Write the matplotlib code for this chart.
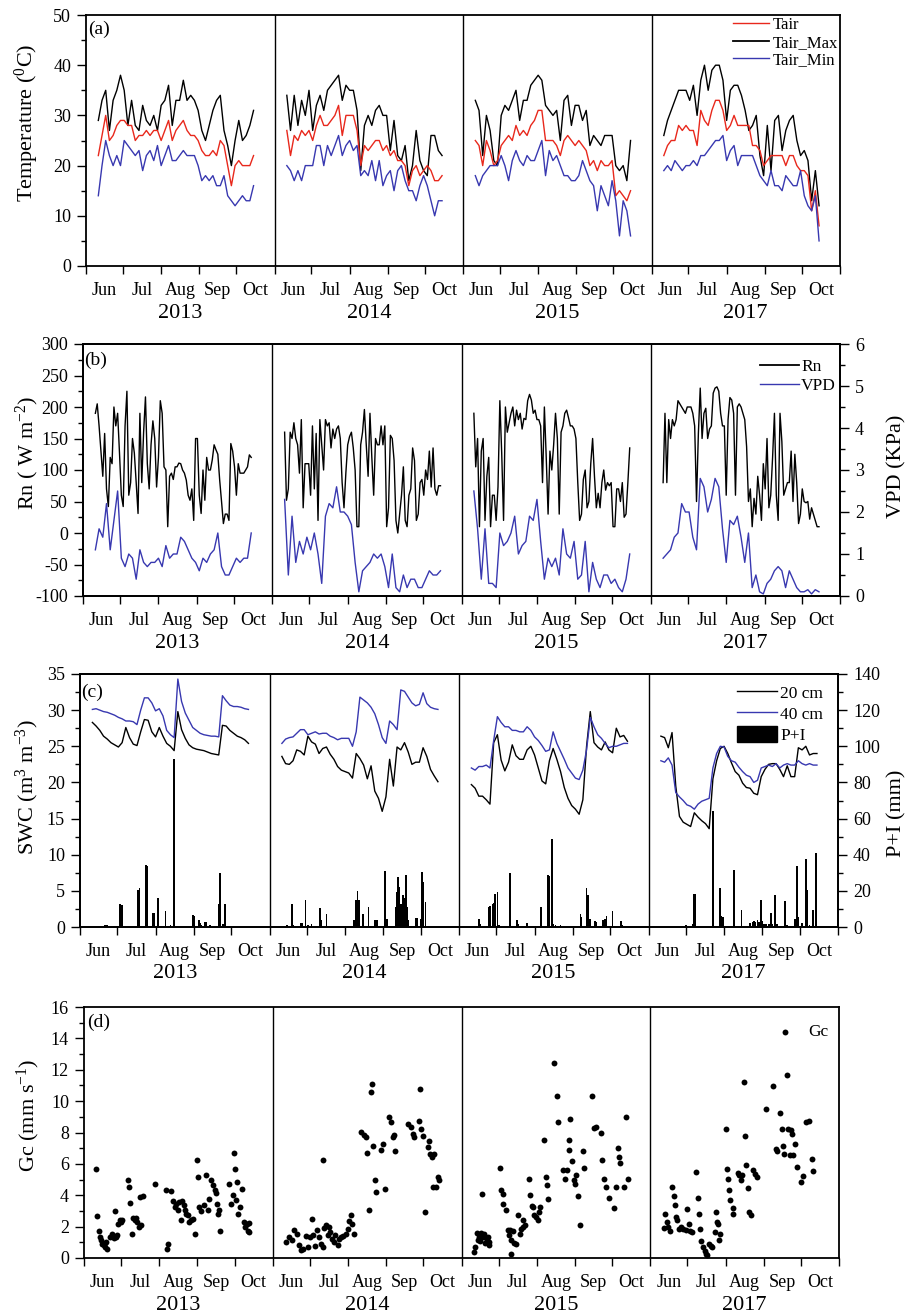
import numpy as np
import matplotlib
matplotlib.use('Agg')
import matplotlib.pyplot as plt
import matplotlib.transforms as mtransforms
from matplotlib.ticker import MultipleLocator
from matplotlib.lines import Line2D
from matplotlib.patches import Patch

plt.rcParams['font.family'] = ['Liberation Serif', 'DejaVu Serif']
plt.rcParams['mathtext.fontset'] = 'custom'
plt.rcParams['mathtext.rm'] = 'Liberation Serif'
plt.rcParams['mathtext.it'] = 'Liberation Serif:italic'
plt.rcParams['mathtext.bf'] = 'Liberation Serif:bold'
plt.rcParams['axes.unicode_minus'] = False
plt.rcParams['axes.linewidth'] = 1.3
plt.rcParams['xtick.major.size'] = 5.5
plt.rcParams['xtick.major.width'] = 1.0
plt.rcParams['ytick.major.size'] = 6.3
plt.rcParams['ytick.minor.size'] = 3.3
plt.rcParams['ytick.major.width'] = 1.0
plt.rcParams['ytick.minor.width'] = 1.0
plt.rcParams['xtick.labelsize'] = 13
plt.rcParams['ytick.labelsize'] = 13

RED = '#e8281c'
BLUE = '#3838b0'

years = ['2013', '2014', '2015', '2017']
months = ['Jun', 'Jul', 'Aug', 'Sep', 'Oct']
month_start = [0, 30, 61, 92, 122, 153]   # days after 1 June
seg = 153                                  # days shown per year (Jun-Oct)
line_days = np.arange(10, 137, 3)          # sampling of the line series
rn_days = np.arange(10, 136.1, 1.5)        # finer sampling for Rn

# ---- (a) air temperature, degC ----
tair_2013 = [22, 26, 30, 25, 26, 28, 29, 29, 28, 28, 25, 26, 26, 27, 26, 27, 27, 25, 27, 29,
             25, 27, 28, 29, 27, 26, 26, 25, 23, 22, 22, 23, 22, 25, 24, 20, 16, 20, 21, 20,
             20, 20, 22]
tmax_2013 = [29, 33, 35, 27, 33, 35, 38, 35, 28, 33, 28, 27, 32, 29, 28, 30, 27, 32, 33, 36,
             28, 33, 33, 37, 33, 34, 33, 31, 27, 25, 28, 31, 33, 34, 27, 24, 20, 25, 29, 25,
             26, 28, 31]
tmin_2013 = [14, 20, 25, 22, 20, 22, 20, 25, 24, 23, 22, 23, 19, 22, 23, 21, 24, 20, 22, 24,
             21, 21, 22, 23, 22, 22, 22, 20, 17, 18, 17, 18, 16, 16, 18, 14, 13, 12, 13, 14,
             13, 13, 16]
tair_2014 = [27, 22, 26, 25, 27, 26, 27, 25, 28, 30, 28, 28, 29, 30, 32, 26, 30, 30, 30, 27,
             20, 24, 23, 24, 25, 25, 23, 24, 22, 23, 21, 21, 20, 16, 19, 20, 18, 19, 20, 19,
             17, 17, 18]
tmax_2014 = [34, 27, 34, 28, 33, 30, 35, 27, 32, 34, 31, 35, 36, 37, 38, 33, 36, 35, 35, 31,
             19, 28, 30, 28, 31, 32, 30, 30, 23, 29, 22, 21, 24, 17, 20, 27, 21, 19, 18, 26,
             26, 23, 22]
tmin_2014 = [20, 19, 17, 19, 17, 20, 20, 20, 24, 24, 20, 24, 22, 24, 26, 22, 24, 25, 23, 24,
             18, 19, 18, 21, 17, 21, 16, 18, 19, 15, 19, 20, 17, 15, 15, 13, 16, 18, 16, 13,
             10, 13, 13]
tair_2015 = [25, 24, 20, 25, 23, 20, 21, 24, 25, 26, 25, 28, 26, 27, 26, 28, 29, 31, 31, 25,
             25, 25, 24, 22, 25, 26, 25, 24, 25, 24, 23, 20, 21, 19, 21, 20, 20, 21, 14, 15,
             14, 13, 15]
tmax_2015 = [33, 31, 22, 30, 27, 21, 20, 30, 32, 31, 33, 35, 29, 33, 33, 36, 37, 38, 37, 32,
             31, 30, 31, 25, 33, 34, 28, 32, 32, 29, 31, 24, 26, 25, 24, 26, 26, 26, 20, 19,
             20, 17, 25]
tmin_2015 = [18, 16, 18, 19, 20, 20, 20, 22, 20, 17, 21, 23, 21, 20, 22, 21, 21, 23, 25, 18,
             23, 21, 22, 20, 18, 18, 17, 17, 18, 21, 19, 17, 16, 11, 16, 14, 12, 17, 13, 6,
             13, 11, 6]
tair_2017 = [22, 24, 25, 25, 28, 27, 28, 27, 27, 24, 31, 29, 28, 31, 33, 33, 31, 27, 28, 30,
             28, 28, 28, 28, 24, 24, 23, 20, 21, 22, 22, 22, 22, 20, 22, 22, 20, 19, 19, 18,
             11, 15, 8]
tmax_2017 = [26, 29, 31, 33, 35, 35, 35, 33, 36, 30, 37, 40, 35, 39, 40, 40, 37, 29, 35, 36,
             36, 34, 31, 27, 28, 30, 22, 18, 28, 19, 29, 30, 23, 27, 29, 30, 25, 22, 23, 21,
             13, 19, 12]
tmin_2017 = [19, 20, 19, 21, 20, 19, 20, 20, 21, 20, 22, 22, 23, 24, 25, 25, 26, 21, 23, 24,
             20, 22, 22, 22, 22, 20, 18, 17, 16, 19, 16, 16, 15, 18, 17, 16, 16, 19, 14, 12,
             11, 14, 5]

# ---- (b) net radiation (W m-2, every 1.5 d) and VPD (kPa) ----
rn_2013 = [190, 205, 170, 130, 90, 158, 70, 42, 120, 110, 200, 170, 190, 127, 60, 42, 170, 225,
           60, 80, 150, 127, 80, 31, 190, 80, 160, 216, 110, 70, 140, 178, 150, 73, 120, 210,
           190, 105, 100, 10, 90, 95, 85, 105, 105, 111, 110, 100, 95, 84, 60, 52, 70, 20,
           150, 150, 60, 31, 100, 52, 120, 100, 100, 116, 140, 132, 125, 84, 50, 15, 30, 30,
           20, 142, 130, 105, 60, 110, 95, 95, 95, 100, 105, 124, 120]
rn_2014 = [160, 52, 70, 160, 150, 175, 150, 140, 95, 180, 40, 110, 110, 110, 60, 170, 70, 158,
           20, 180, 140, 100, 180, 170, 175, 135, 165, 150, 165, 170, 150, 80, 40, 95, 140,
           153, 160, 135, 100, 10, 10, 140, 160, 196, 140, 90, 190, 120, 60, 150, 140, 140,
           170, 140, 170, 10, 40, 155, 150, 115, 20, 0, 30, 60, 105, 20, 10, 60, 70, 135, 115,
           20, 30, 80, 85, 60, 100, 85, 130, 73, 135, 70, 60, 75, 75]
rn_2015 = [190, 105, 150, 10, 130, 150, 20, 90, 120, 10, 60, 60, 20, 73, 210, 127, 20, 200,
           160, 175, 190, 200, 170, 195, 180, 190, 165, 182, 180, 210, 220, 211, 190, 195, 180,
           180, 170, 80, 200, 120, 30, 130, 100, 140, 190, 150, 30, 160, 170, 190, 195, 183,
           170, 170, 165, 150, 80, 20, 30, 85, 100, 40, 50, 110, 150, 90, 40, 63, 40, 80, 100,
           68, 80, 75, 80, 10, 10, 70, 70, 50, 80, 25, 30, 80, 135]
rn_2017 = [80, 190, 80, 180, 150, 180, 170, 180, 210, 205, 200, 195, 190, 200, 200, 200, 190,
           170, 50, 158, 230, 150, 190, 198, 150, 165, 170, 222, 230, 232, 225, 190, 170, 170,
           60, 180, 215, 211, 190, 60, 200, 205, 200, 190, 180, 137, 50, 70, 10, 55, 30, 90,
           60, 20, 110, 70, 150, 40, 60, 120, 190, 60, 20, 190, 145, 60, 70, 80, 80, 130, 50,
           125, 80, 15, 30, 70, 50, 48, 50, 22, 40, 30, 20, 10, 10]
vpd_2013 = [1.1, 1.6, 1.4, 2.2, 1.1, 1.8, 2.5, 0.9, 0.7, 1.0, 0.9, 0.4, 1.1, 0.8, 0.7, 0.8,
            0.8, 0.9, 0.7, 1.2, 0.9, 1.0, 1.0, 1.4, 1.3, 1.1, 0.9, 0.8, 0.6, 0.9, 0.8, 1.0,
            1.1, 1.5, 0.7, 0.5, 0.5, 0.7, 0.9, 0.8, 0.9, 0.9, 1.5]
vpd_2014 = [2.3, 0.5, 1.9, 0.8, 1.3, 1.0, 1.4, 1.1, 1.5, 1.0, 0.3, 1.9, 2.2, 2.1, 2.6, 2.0,
            2.0, 1.9, 1.7, 0.8, 0.1, 0.6, 0.7, 0.8, 1.0, 0.9, 1.0, 0.7, 0.2, 1.0, 0.2, 0.1,
            0.5, 0.2, 0.4, 0.4, 0.2, 0.2, 0.4, 0.6, 0.5, 0.5, 0.6]
vpd_2015 = [2.5, 1.6, 0.4, 1.6, 0.3, 0.3, 0.2, 1.5, 1.2, 1.3, 1.5, 1.9, 1.0, 1.2, 1.3, 1.9,
            1.8, 2.3, 1.3, 0.4, 0.9, 0.7, 0.9, 0.5, 1.6, 1.0, 0.9, 1.3, 0.4, 0.5, 1.3, 0.1,
            0.8, 0.4, 0.2, 0.5, 0.5, 0.3, 0.4, 0.2, 0.1, 0.4, 1.0]
vpd_2017 = [0.9, 1.0, 1.1, 1.4, 1.5, 2.2, 2.0, 2.0, 1.4, 1.1, 2.8, 2.6, 2.0, 2.3, 2.8, 2.6,
            1.6, 0.8, 1.8, 1.7, 1.9, 1.4, 0.8, 1.5, 0.2, 0.5, 0.1, 0.05, 0.3, 0.4, 0.6, 0.7,
            0.6, 0.2, 0.6, 0.4, 0.2, 0.1, 0.1, 0.15, 0.05, 0.15, 0.1]

# ---- (c) soil water content (m3 m-3 x100) at 20 and 40 cm ----
swc20_2013 = [28.3, 27.8, 27.2, 26.4, 26.0, 25.5, 25.2, 24.9, 25.5, 27.6, 26.2, 25.3, 25.1,
              27.0, 28.7, 28.6, 27.0, 26.3, 27.6, 26.4, 25.4, 25.0, 24.4, 29.8, 27.3, 26.1,
              25.2, 24.8, 24.6, 24.5, 24.4, 24.2, 24.0, 23.9, 23.8, 27.9, 27.8, 27.2, 26.8,
              26.4, 26.2, 25.9, 25.4]
swc40_2013 = [30.1, 30.2, 30.0, 29.8, 29.7, 29.5, 29.3, 29.0, 28.8, 28.5, 28.5, 28.4, 28.0,
              30.0, 31.7, 31.7, 31.0, 29.9, 30.2, 29.2, 27.2, 26.6, 26.2, 34.3, 31.2, 29.6,
              28.6, 27.6, 27.2, 26.8, 26.6, 26.5, 26.4, 26.4, 26.3, 32.0, 31.3, 30.7, 30.5,
              30.5, 30.4, 30.2, 30.1]
swc20_2014 = [23.6, 22.6, 22.5, 23.0, 24.5, 24.3, 23.8, 26.4, 25.6, 25.3, 24.0, 24.7, 24.9,
              23.9, 23.2, 22.2, 21.7, 21.5, 21.3, 20.6, 24.0, 23.3, 22.4, 20.5, 22.3, 18.8,
              17.8, 16.0, 18.0, 23.2, 19.5, 24.9, 24.5, 25.5, 24.2, 22.5, 22.8, 22.8, 24.8,
              23.6, 21.8, 20.9, 20.1]
swc40_2014 = [25.4, 26.0, 26.2, 26.3, 26.8, 27.3, 27.3, 26.6, 26.8, 27.0, 26.7, 26.8, 26.8,
              26.4, 26.2, 25.9, 26.1, 26.1, 26.1, 25.0, 27.0, 31.8, 31.4, 31.0, 30.4, 29.5,
              28.0, 26.2, 25.4, 28.5, 28.0, 27.3, 32.8, 32.6, 31.8, 31.0, 30.6, 30.8, 32.4,
              30.9, 30.4, 30.2, 30.1]
swc20_2015 = [19.7, 19.2, 18.1, 18.1, 17.6, 17.0, 25.5, 26.6, 23.1, 21.6, 22.8, 25.2, 23.7,
              23.2, 23.2, 24.5, 25.0, 23.8, 22.0, 20.2, 19.8, 23.0, 24.7, 23.2, 21.5, 19.3,
              17.8, 16.8, 16.3, 15.6, 17.6, 25.0, 29.8, 25.5, 24.9, 24.5, 25.6, 24.5, 24.1,
              27.5, 26.3, 26.5, 25.7]
swc40_2015 = [22.0, 21.7, 22.2, 22.2, 22.4, 22.0, 25.8, 29.1, 28.3, 27.7, 27.7, 27.2, 27.2,
              27.0, 27.0, 27.7, 27.2, 26.3, 25.8, 25.1, 24.3, 24.5, 27.0, 25.4, 24.3, 23.2,
              22.0, 21.3, 20.6, 20.4, 21.7, 24.5, 29.0, 27.7, 26.6, 26.1, 25.4, 24.8, 25.0,
              25.0, 25.2, 25.4, 25.4]
swc20_2017 = [26.4, 26.2, 24.8, 26.9, 19.5, 15.3, 14.5, 14.2, 13.9, 15.8, 15.2, 14.7, 14.3,
              13.6, 20.5, 23.0, 24.7, 25.0, 24.0, 22.7, 21.5, 21.0, 19.9, 19.3, 19.2, 18.5,
              18.3, 20.8, 21.8, 22.5, 22.6, 22.6, 21.8, 20.8, 22.3, 20.8, 20.8, 24.8, 24.5,
              25.0, 23.8, 24.0, 24.0]
swc40_2017 = [23.0, 22.8, 23.4, 22.4, 18.6, 18.0, 17.5, 16.9, 16.7, 16.3, 17.0, 17.4, 17.6,
              17.8, 22.0, 24.0, 25.0, 24.9, 23.6, 23.0, 22.8, 22.1, 21.5, 21.0, 20.8, 20.0,
              20.3, 22.0, 22.2, 22.4, 22.2, 22.6, 22.0, 22.4, 22.6, 22.4, 22.4, 23.0, 22.6,
              22.4, 22.6, 22.4, 22.4]

# precipitation + irrigation (mm), day after 1 June
pi_days_2013 = [20, 22, 32, 34, 47, 48, 53, 54, 59, 60, 63, 69, 73, 76, 91, 92, 96, 97, 98,
                101, 102, 105, 112, 113, 115, 116, 117]
pi_2013 = [1, 1, 12.5, 12, 20.5, 21.5, 34.5, 34, 8, 8, 16, 9, 1, 93, 6.5, 6, 3.7, 2, 1, 3,
           2.5, 1, 12.5, 30, 1.5, 1.5, 13]
pi_days_2014 = [14, 18, 19, 25, 26, 29, 31, 34, 41, 42, 46, 68, 70, 71, 72, 75, 76, 80, 85, 87,
                93, 95, 102, 103, 104, 105, 106, 108, 109, 110, 111, 112, 118, 119, 122, 123,
                124, 126]
pi_2014 = [1, 12.5, 1, 2, 2, 15, 1, 1.5, 10.7, 3.7, 7.4, 3.7, 14.8, 20, 14.8, 7.4, 7.4, 11, 4,
           4, 31, 4.6, 11, 19.4, 27.7, 22, 13, 17.6, 16, 28.7, 11, 4, 5, 5, 4.6, 30.5, 25, 14]
pi_days_2015 = [16, 17, 24, 25, 27, 28, 29, 31, 32, 41, 47, 48, 55, 66, 72, 73, 75, 76, 78, 82,
                98, 99, 103, 104, 106, 110, 111, 116, 118, 119, 124, 131, 132]
pi_2015 = [4.6, 1.5, 11, 11.5, 13, 13.5, 18.5, 19.4, 1, 30, 3.7, 1.5, 2.2, 11, 28.7, 28, 48.6,
           1.5, 1, 1, 7.4, 5.5, 21.8, 17.6, 4.6, 3.3, 2.5, 4, 4.6, 6, 8.7, 3.3, 1]
pi_days_2017 = [30, 36, 37, 38, 52, 58, 59, 60, 69, 75, 82, 84, 85, 86, 88, 89, 91, 92, 93, 95,
                97, 99, 100, 102, 104, 110, 112, 118, 120, 121, 124, 127, 128, 130, 133, 135]
pi_2017 = [1, 1.5, 18.5, 18, 64, 21.8, 6, 5.5, 31.4, 9.6, 2.2, 3, 3.5, 3, 4, 3, 14.8, 3.5, 1.5,
           1.5, 1.5, 7.8, 1.5, 17.6, 1.5, 14.4, 1, 4.6, 34, 5.5, 2, 37.6, 20.3, 1, 9.6, 40.7]

# ---- (d) canopy conductance Gc (mm s-1) ----
gc_days_2013 = [10, 10.8, 11.9, 12.7, 13.5, 14.6, 15.9, 17, 18, 18.6, 21.3, 22.7, 24, 24.8,
                25.6, 26.7, 27.8, 28.9, 30.2, 31, 35.6, 36.4, 37.5, 38.6, 39.7, 41, 42.4, 43.2,
                44.5, 45, 46.4, 47.8, 57.7, 66.1, 67.5, 68.3, 70.7, 72, 73.4, 74.7, 76.1, 77.4,
                78.8, 79.6, 80.9, 82, 82.8, 84.2, 85.5, 86.9, 88.2, 89.6, 91.5, 92.8, 93.6, 95,
                96.9, 98.5, 100.4, 101.7, 103.1, 104.4, 105.8, 106.6, 107.9, 108.7, 109.8,
                110.6, 117.9, 119.3, 120.6, 121.2, 122, 123.3, 123.9, 124.9, 126.5, 128.2,
                129.5, 130.9, 132, 132.8, 134.1, 134.1]
gc_2013 = [5.65, 2.7, 1.72, 1.34, 1.13, 0.91, 0.81, 0.7, 1.0, 0.55, 1.34, 1.55, 1.27, 3.0,
           1.34, 1.45, 2.19, 2.4, 2.3, 2.44, 4.95, 4.53, 3.5, 1.55, 2.57, 2.44, 2.57, 2.3, 1.98,
           3.9, 2.08, 3.93, 4.74, 4.36, 0.6, 0.91, 4.27, 3.63, 3.25, 3.42, 3.04, 3.57, 2.44,
           3.63, 3.36, 3.08, 2.83, 2.72, 2.3, 2.4, 2.5, 1.51, 6.27, 5.16, 3.25, 3.0, 3.36,
           5.27, 3.04, 3.78, 4.95, 4.63, 4.31, 4.14, 3.46, 2.83, 3.04, 1.72, 4.74, 3.42, 4.0,
           6.69, 5.69, 3.68, 4.84, 2.83, 3.25, 4.42, 2.3, 1.98, 2.19, 1.72, 2.23, 1.66]
gc_days_2014 = [10.8, 13.5, 15.6, 17.5, 19.4, 21.3, 23.3, 24.6, 26.9, 28.6, 29.8, 31.8, 32.4,
                34.2, 36.1, 37.6, 39, 40.5, 41, 41.8, 43.2, 44.5, 45.9, 46.7, 48, 49.4, 50.7,
                52.6, 54, 55.3, 57.2, 59.4, 60.7, 62.1, 63.4, 64.2, 65.6, 71.5, 74.2, 75.6,
                76.4, 77.7, 79.6, 80.4, 81.5, 83.1, 83.6, 88, 89.6, 90.9, 94.4, 95.8, 97.1,
                98.5, 99.3, 110, 111.9, 113.3, 114.7, 118.2, 119.3, 120.1, 122, 123.6, 125.5,
                126.8, 127.6, 129, 130.3, 130.9, 132.2, 133.6, 134.4]
gc_2014 = [1.02, 1.34, 1.13, 1.76, 1.55, 0.81, 0.49, 0.6, 1.38, 0.7, 1.34, 2.47, 1.45, 0.77,
           1.76, 1.34, 0.91, 0.7, 6.23, 1.93, 2.08, 1.45, 1.98, 1.66, 1.23, 1.02, 1.45, 0.81,
           1.23, 1.34, 1.38, 1.55, 1.87, 2.36, 2.72, 2.19, 1.55, 8.03, 7.86, 7.71, 6.69, 3.08,
           10.58, 11.07, 7.12, 4.95, 4.2, 6.86, 7.29, 4.42, 8.99, 8.67, 7.71, 7.86, 6.82, 8.52,
           8.35, 7.93, 7.71, 8.71, 10.79, 8.2, 7.76, 2.93, 7.08, 7.44, 6.65, 6.44, 4.53, 6.61,
           4.53, 5.16, 4.95]
gc_days_2015 = [10.3, 11.1, 12.2, 13, 13.8, 14.9, 15.7, 16.5, 17.1, 18.4, 19.2, 20.3, 21.1,
                21.9, 22.5, 31.2, 32, 33.3, 33.3, 36, 37.4, 38.2, 39.3, 40.1, 41.5, 42.8, 40.1,
                44.2, 46.1, 47.4, 48.2, 49.6, 50.1, 51.8, 54.5, 55.6, 57.2, 58.3, 59.1, 60.4,
                61.8, 63.1, 64, 67.2, 68.6, 69.1, 70.2, 74.8, 77.2, 78.3, 82.1, 83.5, 85.4, 87,
                87.5, 88.1, 89.7, 90.8, 92.4, 93, 94.6, 95.7, 98.4, 99.7, 106, 107.3, 108.7,
                112.7, 114.1, 115.2, 117.3, 119.2, 123.3, 125.5, 126.8, 127.6, 128.7, 131.4,
                133.6, 135]
gc_2015 = [0.38, 0.7, 1.61, 1.13, 1.34, 1.08, 1.61, 4.06, 1.34, 1.55, 0.98, 1.13, 1.34, 0.81,
           1.02, 5.76, 4.31, 4.06, 3.42, 3.08, 1.76, 1.45, 1.76, 1.17, 1.72, 0.98, 0.28, 0.87,
           2.72, 1.51, 1.87, 2.4, 1.98, 2.08, 5.01, 4.0, 3.29, 3.25, 2.72, 2.61, 2.44, 2.93,
           3.25, 7.54, 5.16, 4.63, 3.78, 12.45, 10.31, 8.67, 5.59, 5.06, 5.59, 7.54, 6.91,
           8.88, 6.18, 4.95, 4.7, 5.27, 3.93, 2.13, 6.82, 5.74, 10.31, 8.31, 8.35, 7.97, 6.23,
           5.06, 4.53, 3.85, 3.21, 4.53, 7.01, 6.44, 6.08, 4.53, 8.99, 5.06]
gc_days_2017 = [10.8, 12.2, 13.6, 14.4, 15.7, 17.9, 19, 19.8, 21.1, 21.7, 23.3, 25.2, 26.6,
                28.7, 29.8, 31.4, 32.5, 34.1, 37.4, 38.5, 39.6, 40.1, 41.5, 42.8, 44.2, 45,
                46.1, 47.7, 49.1, 50.4, 52.3, 53.1, 54.2, 55.3, 55.8, 56.9, 61.2, 62.3, 63.1,
                63.9, 65, 66.7, 67.2, 71.3, 72.1, 73.2, 74, 75.9, 77.2, 78, 79.4, 80.2, 81.3,
                83.5, 84.8, 86.2, 93.8, 99.7, 101.9, 102.4, 105.1, 106.5, 107.3, 108.4, 111.1,
                111.9, 113.3, 113.8, 114.6, 116, 117.3, 118.7, 121.9, 123.6, 126.3, 129, 130.9,
                132.2]
gc_2017 = [1.93, 2.83, 2.3, 1.98, 1.72, 4.53, 3.93, 3.36, 2.61, 2.44, 1.87, 1.98, 1.87, 1.81,
           3.14, 2.19, 1.72, 1.66, 5.48, 3.85, 2.83, 1.87, 1.06, 0.7, 0.45, 0.28, 0.17, 0.91,
           0.74, 0.7, 1.66, 2.93, 2.3, 2.19, 1.17, 1.55, 8.2, 5.69, 5.06, 4.31, 3.68, 3.21,
           2.83, 5.42, 5.27, 4.95, 5.27, 11.22, 7.76, 5.91, 4.48, 2.93, 2.72, 5.59, 5.38, 5.16,
           9.48, 10.94, 6.97, 6.82, 9.24, 8.24, 7.12, 6.65, 11.64, 8.24, 6.54, 8.14, 7.88, 6.54,
           7.25, 5.8, 4.84, 5.21, 8.67, 8.73, 6.29, 5.55]

tair = [tair_2013, tair_2014, tair_2015, tair_2017]
tmax = [tmax_2013, tmax_2014, tmax_2015, tmax_2017]
tmin = [tmin_2013, tmin_2014, tmin_2015, tmin_2017]
rn = [rn_2013, rn_2014, rn_2015, rn_2017]
vpd = [vpd_2013, vpd_2014, vpd_2015, vpd_2017]
swc20 = [swc20_2013, swc20_2014, swc20_2015, swc20_2017]
swc40 = [swc40_2013, swc40_2014, swc40_2015, swc40_2017]
pi_days = [pi_days_2013, pi_days_2014, pi_days_2015, pi_days_2017]
pi_vals = [pi_2013, pi_2014, pi_2015, pi_2017]
gc_days = [gc_days_2013, gc_days_2014, gc_days_2015, gc_days_2017]
gc_vals = [gc_2013, gc_2014, gc_2015, gc_2017]

W, H = 909, 1316
fig = plt.figure(figsize=(W / 100, H / 100), dpi=100)


def make_axes(l, r, t, b, ylim, major, minor):
    ax = fig.add_axes([l / W, 1 - b / H, (r - l) / W, (b - t) / H])
    ax.set_xlim(0, 4 * seg)
    ax.set_ylim(*ylim)
    ax.yaxis.set_major_locator(MultipleLocator(major))
    ax.yaxis.set_minor_locator(MultipleLocator(minor))
    edges = [k * seg + m for k in range(4) for m in month_start[:-1]] + [4 * seg]
    mids = [k * seg + (month_start[i] + month_start[i + 1]) / 2
            for k in range(4) for i in range(5)]
    ax.set_xticks(edges, [''] * len(edges))
    ax.set_xticks(mids, months * 4, minor=True)
    ax.tick_params(axis='x', which='minor', length=0, pad=11.5)
    ax.tick_params(axis='y', which='major', pad=4.5)
    for k in range(1, 4):
        ax.axvline(k * seg, color='k', lw=1.0)
    trans = mtransforms.blended_transform_factory(ax.transData, ax.transAxes)
    for k, yr in enumerate(years):
        ax.text(k * seg + seg / 2, -47 / (b - t), yr, transform=trans,
                ha='center', va='center', fontsize=16)
    return ax


def make_twin(ax, ylim, major, minor):
    ax2 = ax.twinx()
    ax2.set_ylim(*ylim)
    ax2.yaxis.set_major_locator(MultipleLocator(major))
    ax2.yaxis.set_minor_locator(MultipleLocator(minor))
    ax2.tick_params(axis='y', which='major', pad=4.5)
    return ax2


def panel_label(ax, txt, dx, dy, w, h):
    ax.text(dx / w, 1 - dy / h, txt, transform=ax.transAxes, ha='left', va='center',
            fontsize=14)


# (a)
ax_a = make_axes(86, 840, 15, 266, (0, 50), 10, 5)
for k in range(4):
    x = line_days + k * seg
    ax_a.plot(x, tmax[k], color='k', lw=1.0)
    ax_a.plot(x, tair[k], color=RED, lw=1.0)
    ax_a.plot(x, tmin[k], color=BLUE, lw=1.0)
h_a = [Line2D([], [], color=RED, lw=1.0), Line2D([], [], color='k', lw=1.3),
       Line2D([], [], color=BLUE, lw=1.0)]
ax_a.legend(h_a, ['Tair', 'Tair_Max', 'Tair_Min'], loc='upper right',
            bbox_to_anchor=(1 - 2 / 754, 1 - 2 / 251), frameon=False, fontsize=12,
            handlelength=2.2, handletextpad=0.2, labelspacing=0.1, borderpad=0,
            borderaxespad=0)
panel_label(ax_a, '(a)', 2, 14, 754, 251)

# (b)
ax_b = make_axes(83, 840, 344, 596, (-100, 300), 50, 25)
ax_b2 = make_twin(ax_b, (0, 6), 1, 0.5)
for k in range(4):
    ax_b.plot(rn_days + k * seg, rn[k], color='k', lw=1.0)
    ax_b2.plot(line_days + k * seg, vpd[k], color=BLUE, lw=1.0)
h_b = [Line2D([], [], color='k', lw=1.3), Line2D([], [], color=BLUE, lw=1.0)]
ax_b2.legend(h_b, ['Rn', 'VPD'], loc='upper right',
             bbox_to_anchor=((836 - 83) / 757, 1 - 15 / 252), frameon=False, fontsize=12.5,
             handlelength=2.2, handletextpad=0.15, labelspacing=0.15, borderpad=0,
             borderaxespad=0)
panel_label(ax_b, '(b)', 1, 16, 757, 252)

# (c)
ax_c = make_axes(80, 838, 674, 927, (0, 35), 5, 2.5)
ax_c2 = make_twin(ax_c, (0, 140), 20, 10)
for k in range(4):
    x = line_days + k * seg
    ax_c.plot(x, swc20[k], color='k', lw=1.0)
    ax_c.plot(x, swc40[k], color=BLUE, lw=1.0)
    ax_c2.bar(np.array(pi_days[k]) + k * seg, pi_vals[k], width=1.4, color='k',
              edgecolor='none')
h_c = [Line2D([], [], color='k', lw=1.0), Line2D([], [], color=BLUE, lw=1.0),
       Patch(facecolor='k', edgecolor='k')]
ax_c2.legend(h_c, ['20 cm', '40 cm', 'P+I'], loc='upper right',
             bbox_to_anchor=((823 - 80) / 758, 1 - 10 / 253), frameon=False, fontsize=12.5,
             handlelength=2.3, handleheight=1.1, handletextpad=0.2, labelspacing=0.15,
             borderpad=0, borderaxespad=0)
panel_label(ax_c, '(c)', 1, 18, 758, 253)

# (d)
ax_d = make_axes(84, 839, 1007, 1258, (0, 16), 2, 1)
for k in range(4):
    sc = ax_d.scatter(np.array(gc_days[k]) + k * seg, gc_vals[k], s=18, color='k',
                      linewidths=0, zorder=3)
ax_d.legend([sc], ['Gc'], loc='upper right', scatterpoints=1,
            bbox_to_anchor=((828 - 84) / 755, 1 - 17 / 251), frameon=False, fontsize=12.5,
            handlelength=2.2, handletextpad=0.2, borderpad=0, borderaxespad=0)
panel_label(ax_d, '(d)', 3, 15, 755, 251)

# axis titles
fig.text(27 / W, 1 - 123 / H, 'Temperature ($^{0}$C)', rotation=90, ha='center',
         va='center', fontsize=16)
fig.text(27 / W, 1 - 453 / H, 'Rn ( W m$^{-2}$)', rotation=90, ha='center', va='center',
         fontsize=16)
fig.text(897 / W, 1 - 466 / H, 'VPD (KPa)', rotation=90, ha='center', va='center',
         fontsize=16)
fig.text(27 / W, 1 - 787 / H, 'SWC (m$^{3}$ m$^{-3}$)', rotation=90, ha='center',
         va='center', fontsize=16)
fig.text(897 / W, 1 - 813 / H, 'P+I (mm)', rotation=90, ha='center', va='center',
         fontsize=16)
fig.text(28 / W, 1 - 1115 / H, 'Gc (mm s$^{-1}$)', rotation=90, ha='center', va='center',
         fontsize=16)

fig.savefig('out.png', dpi=100)
